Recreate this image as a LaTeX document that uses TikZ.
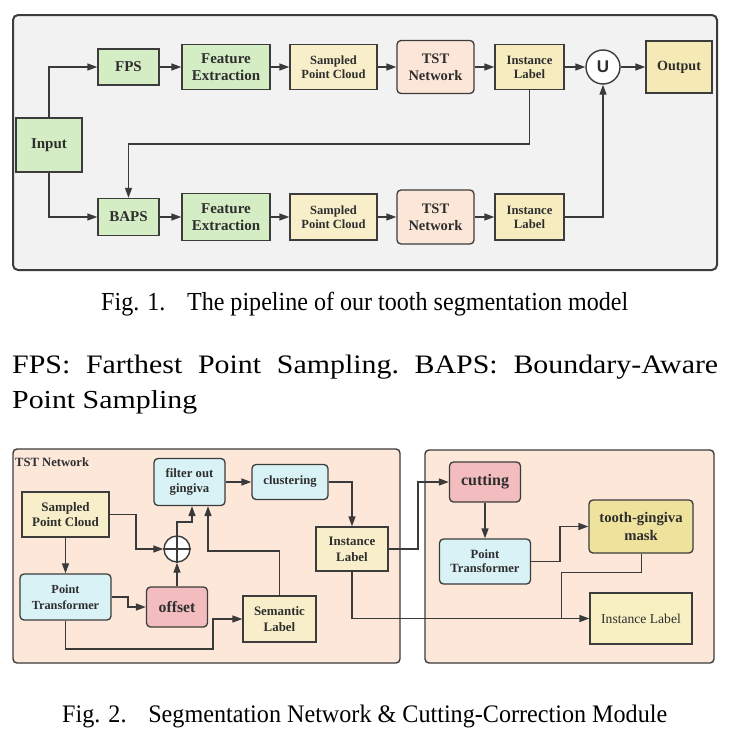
\documentclass[tikz,border=0pt]{standalone}
\usepackage{fontspec}
\setmainfont{Liberation Serif}
\newfontfamily\sansf{Liberation Sans}
\usetikzlibrary{arrows.meta,calc}
\definecolor{bd}{HTML}{3C3C3C}
\definecolor{ln}{HTML}{3A3A3A}
\definecolor{txt}{HTML}{2E2E2E}
\definecolor{bgg}{HTML}{F2F2F2}
\definecolor{gfill}{HTML}{D5EDC5}
\definecolor{yfill}{HTML}{F8EFCA}
\definecolor{ifill}{HTML}{F6ECBF}
\definecolor{ofill}{HTML}{F5EAB5}
\definecolor{pch}{HTML}{FCE6D7}
\definecolor{panel}{HTML}{FCE7D9}
\definecolor{cyan}{HTML}{D8F2F6}
\definecolor{pink}{HTML}{F3BDBF}
\definecolor{mfill}{HTML}{EFE29C}
\definecolor{lfill}{HTML}{F8F0C2}
\tikzset{
  base/.style={draw=bd, line width=1.3pt, inner sep=0pt, align=center, text=txt},
  gbox/.style={base, fill=gfill},
  ybox/.style={base, fill=yfill},
  ibox/.style={base, fill=ifill},
  tbox/.style={base, fill=pch, rounded corners=4pt},
  cbox/.style={base, fill=cyan, rounded corners=4pt},
  pkbox/.style={base, fill=pink, rounded corners=4pt},
  arr/.style={draw=ln, line width=1.4pt, -{Triangle[length=10pt,width=7pt]}},
  thinln/.style={draw=ln, line width=1pt},
  capt/.style={anchor=base west, inner sep=0pt, text=black},
}
\begin{document}
\begin{tikzpicture}[x=1pt,y=-1pt]
\useasboundingbox (0,0) rectangle (730,736);
\fill[white] (0,0) rectangle (730,736);
% ---------- Fig 1 ----------
\draw[draw=bd, line width=2pt, fill=bgg, rounded corners=5pt] (13,15) rectangle (717,270);
\node[gbox, minimum width=66pt, minimum height=54pt, font=\fontsize{15}{17}\selectfont\bfseries] (input) at (49,145) {Input};
\node[gbox, minimum width=61pt, minimum height=36pt, font=\fontsize{15}{17}\selectfont\bfseries] (fps) at (128.5,67) {FPS};
\node[gbox, minimum width=88pt, minimum height=45pt, font=\fontsize{15}{16.7}\selectfont\bfseries] (fe1) at (226,67) {Feature\\Extraction};
\node[ybox, minimum width=87pt, minimum height=45pt, font=\fontsize{12.5}{14.3}\selectfont\bfseries] (spc1) at (333.5,67) {Sampled\\Point Cloud};
\node[tbox, minimum width=77pt, minimum height=53pt, font=\fontsize{14.5}{16.7}\selectfont\bfseries] (tst1) at (435.5,67) {TST\\Network};
\node[ibox, minimum width=69pt, minimum height=45pt, font=\fontsize{12.7}{14}\selectfont\bfseries] (il1) at (529.5,67) {Instance\\Label};
\node[circle, draw=bd, line width=1.4pt, fill=white, minimum size=34pt, inner sep=0pt, text=txt, font=\sansf\bfseries\fontsize{17}{17}\selectfont] (U) at (603,67) {U};
\node[base, fill=ofill, minimum width=66pt, minimum height=52pt, font=\fontsize{14.1}{16}\selectfont\bfseries] (out) at (679,67) {Output};

\node[gbox, minimum width=61pt, minimum height=37pt, font=\fontsize{15}{17}\selectfont\bfseries] (baps) at (128.5,217) {BAPS};
\node[gbox, minimum width=88pt, minimum height=47pt, font=\fontsize{15}{16.7}\selectfont\bfseries] (fe2) at (226,217) {Feature\\Extraction};
\node[ybox, minimum width=87pt, minimum height=46pt, font=\fontsize{12.5}{14.3}\selectfont\bfseries] (spc2) at (333.5,217) {Sampled\\Point Cloud};
\node[tbox, minimum width=77pt, minimum height=54pt, font=\fontsize{14.5}{16.7}\selectfont\bfseries] (tst2) at (435.5,217) {TST\\Network};
\node[ibox, minimum width=69pt, minimum height=46pt, font=\fontsize{12.7}{14}\selectfont\bfseries] (il2) at (529.5,217) {Instance\\Label};

\coordinate (fb) at (0,144);
\draw[arr] (input.north) |- (fps.west);
\draw[arr] (input.south) |- (baps.west);
\draw[arr] (fps) -- (fe1);
\draw[arr] (fe1) -- (spc1);
\draw[arr] (spc1) -- (tst1);
\draw[arr] (tst1) -- (il1);
\draw[arr] (il1) -- (U);
\draw[arr] (U) -- (out);
\draw[arr] (baps) -- (fe2);
\draw[arr] (fe2) -- (spc2);
\draw[arr] (spc2) -- (tst2);
\draw[arr] (tst2) -- (il2);
\draw[arr] (il1.south) -- (il1.south |- fb) -| (baps.north);
\draw[arr] (il2.east) -| (U.south);

% ---------- captions ----------
\node[capt] (cap1) at (101,310) {\resizebox{527pt}{18.3pt}{\fontsize{24}{24}\selectfont Fig. 1.\hspace{0.9em}The pipeline of our tooth segmentation model}};
\node[capt] (fpsl) at (12,373) {\resizebox{706pt}{18.5pt}{\fontsize{27}{27}\selectfont\hbox to 23.63em{FPS:\hfill Farthest\hfill Point\hfill Sampling.\hfill BAPS:\hfill Boundary-Aware}}};
\node[capt] (fpsl2) at (12,408) {\resizebox{185pt}{18pt}{\fontsize{27}{27}\selectfont Point Sampling}};
\node[capt] (cap2) at (62,722) {\resizebox{605pt}{17.5pt}{\fontsize{24}{24}\selectfont Fig. 2.\hspace{0.9em}Segmentation Network \& Cutting-Correction Module}};

% ---------- Fig 2 ----------
\draw[draw=bd, line width=1.4pt, fill=panel, rounded corners=4pt] (13,449) rectangle (400,663);
\draw[draw=bd, line width=1.4pt, fill=panel, rounded corners=4pt] (425,450) rectangle (714,663);
\node[anchor=west, inner sep=0pt, text=txt, font=\fontsize{12.6}{14}\selectfont\bfseries] (tstlab) at (15,462) {TST Network};

\node[ybox, minimum width=87pt, minimum height=45pt, font=\fontsize{13}{15.7}\selectfont\bfseries] (spc) at (65.5,514.5) {Sampled\\Point Cloud};
\node[cbox, minimum width=71pt, minimum height=47pt, font=\fontsize{12.7}{15.7}\selectfont\bfseries] (filt) at (189.5,482) {filter out\\gingiva};
\node[cbox, minimum width=76pt, minimum height=35pt, font=\fontsize{12.6}{15}\selectfont\bfseries] (clus) at (290,482) {clustering};
\node[ybox, minimum width=72pt, minimum height=44pt, font=\fontsize{12.9}{15.7}\selectfont\bfseries] (il) at (352,549) {Instance\\Label};
\node[circle, draw=bd, line width=1.4pt, fill=white, minimum size=26pt, inner sep=0pt] (plus) at (177,549) {};
\draw[draw=bd, line width=1.3pt] (plus.north) -- (plus.south) (plus.west) -- (plus.east);
\node[cbox, minimum width=91pt, minimum height=46pt, font=\fontsize{12.3}{15.7}\selectfont\bfseries] (pt) at (65.5,597) {Point\\Transformer};
\node[pkbox, minimum width=61pt, minimum height=40pt, font=\fontsize{15.7}{17}\selectfont\bfseries] (off) at (177,607) {offset};
\node[ybox, minimum width=73pt, minimum height=46pt, font=\fontsize{12.9}{15.3}\selectfont\bfseries] (sem) at (279.5,619) {Semantic\\Label};

\node[pkbox, minimum width=71pt, minimum height=40pt, font=\fontsize{16}{17}\selectfont\bfseries] (cut) at (485,482) {cutting};
\node[cbox, minimum width=91pt, minimum height=45pt, font=\fontsize{12.6}{14.3}\selectfont\bfseries] (pt2) at (485,561.5) {Point\\Transformer};
\node[base, fill=mfill, rounded corners=4pt, minimum width=104pt, minimum height=53pt, font=\fontsize{14.7}{17.7}\selectfont\bfseries] (mask) at (641,526.5) {tooth-gingiva\\mask};
\node[base, fill=lfill, minimum width=102pt, minimum height=51pt, font=\fontsize{13.6}{15}\selectfont] (il2r) at (641,618.5) {Instance Label};

\coordinate (k1) at (136,0);
\coordinate (k2) at (128,0);
\coordinate (k3) at (0,522);
\coordinate (k4) at (0,551);
\coordinate (k5) at (213,649);
\coordinate (k6) at (418,0);
\coordinate (k7) at (560,0);
\coordinate (k8) at (561,572);
\draw[arr] (spc.east) -| (k1 |- plus) -- (plus.west);
\draw[arr] (spc.south) -- (pt.north);
\draw[arr] (pt.east) -| (k2 |- off) -- (off.west);
\draw[arr] (off.north) -- (plus.south);
\draw[arr] (plus.north) |- ([xshift=2.5pt]filt.south |- k3) -- ([xshift=2.5pt]filt.south);
\draw[arr] (sem.north) |- ([xshift=18.5pt]filt.south |- k4) -- ([xshift=18.5pt]filt.south);
\draw[arr] (pt.south) |- (k5) |- (sem.west);
\draw[arr] (filt.east) -- (clus.west);
\draw[arr] (clus.east) -| (il.north);
\draw[arr] (il.east) -| (k6 |- cut) -- (cut.west);
\draw[arr] (il.south) |- (il2r.west);
\draw[arr] (cut.south) -- (pt2.north);
\draw[arr] (pt2.east) -| (k7 |- mask) -- (mask.west);
\draw[thinln] (mask.south) |- (k8) -- (k8 |- il2r);
\end{tikzpicture}
\end{document}
